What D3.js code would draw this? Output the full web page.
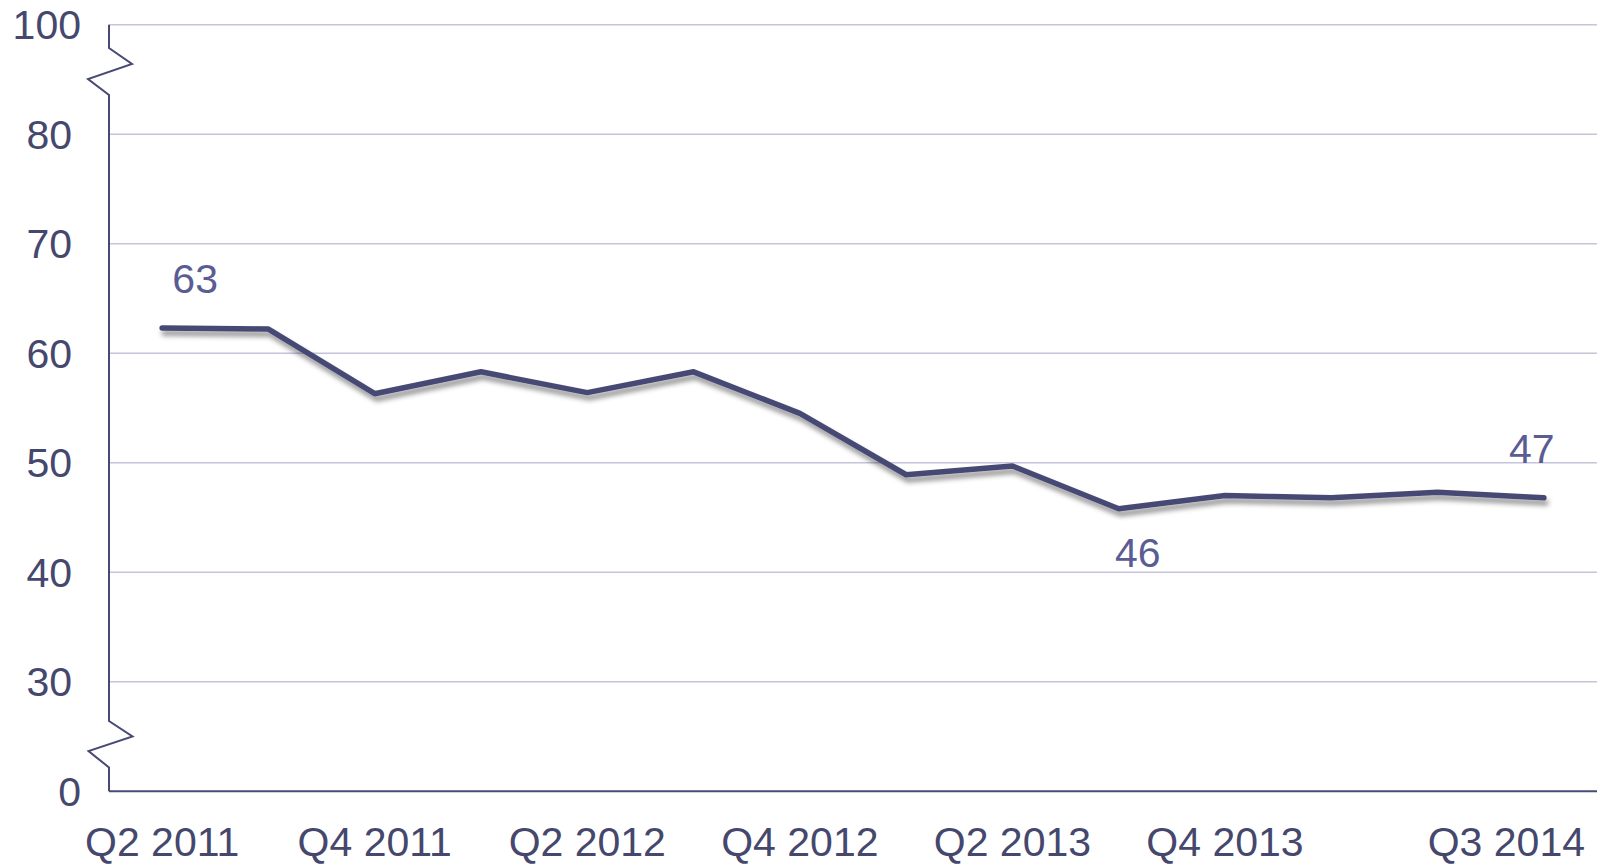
<!DOCTYPE html>
<html>
<head>
<meta charset="utf-8">
<script src="https://cdn.jsdelivr.net/npm/d3@7"></script>
<style>
  html, body { margin: 0; padding: 0; background: #ffffff; }
  svg { display: block; }
  text { font-family: "Liberation Sans", Arial, sans-serif; }
</style>
</head>
<body>
<svg id="chart" width="1603" height="865"></svg>
<script>
// ---- data ----
const categories = ["Q2 2011","Q3 2011","Q4 2011","Q1 2012","Q2 2012","Q3 2012","Q4 2012",
                    "Q1 2013","Q2 2013","Q3 2013","Q4 2013","Q1 2014","Q2 2014","Q3 2014"];
const values = [62.3, 62.2, 56.3, 58.3, 56.4, 58.3, 54.5, 48.9, 49.7, 45.8, 47.0, 46.8, 47.3, 46.8];
const xTickLabels = ["Q2 2011","Q4 2011","Q2 2012","Q4 2012","Q2 2013","Q4 2013","Q3 2014"];
// broken axis: plotted positions 20 and 90 carry the labels 0 and 100
const yTickValues = [20, 30, 40, 50, 60, 70, 80, 90];
const yTickLabels = ["0", "30", "40", "50", "60", "70", "80", "100"];
const pointLabels = [
  {index: 0, text: "63", pos: "above", dx: 33},
  {index: 9, text: "46", pos: "below", dx: 19},
  {index: 13, text: "47", pos: "above", dx: -12}
];

// ---- layout ----
const svg = d3.select("#chart");
const pLeft = 109, pRight = 1597, pTop = 24.7, pBottom = 791.2;
const lineColor = "#474a74", textColor = "#45476d", labelColor = "#5a5c94", gridColor = "#c4c4dc";
const fontSize = 41;

const x = d3.scalePoint().domain(categories).range([pLeft, pRight]).padding(0.5);
const y = d3.scaleLinear().domain([20, 90]).range([pBottom, pTop]);

const defs = svg.append("defs");
const f = defs.append("filter").attr("id", "shadow")
  .attr("x", "-5%").attr("y", "-20%").attr("width", "110%").attr("height", "150%");
f.append("feDropShadow").attr("dx", 2).attr("dy", 5).attr("stdDeviation", 2.5)
  .attr("flood-color", "#000").attr("flood-opacity", 0.42);

// gridlines
svg.append("g").selectAll("line")
  .data(yTickValues.filter(v => v > 20))
  .join("line")
  .attr("x1", pLeft).attr("x2", pRight)
  .attr("y1", d => y(d)).attr("y2", d => y(d))
  .attr("stroke", gridColor).attr("stroke-width", 1.6);

// x axis line
svg.append("line").attr("x1", pLeft).attr("x2", pRight)
  .attr("y1", pBottom).attr("y2", pBottom)
  .attr("stroke", lineColor).attr("stroke-width", 2);

// y axis with breaks (zigzags)
const yAxisPath = d3.path();
yAxisPath.moveTo(pLeft, y(90));
yAxisPath.lineTo(pLeft, 48);
yAxisPath.lineTo(132, 64);
yAxisPath.lineTo(88, 79);
yAxisPath.lineTo(pLeft, 95);
yAxisPath.lineTo(pLeft, 721);
yAxisPath.lineTo(132.5, 736.5);
yAxisPath.lineTo(88.5, 751);
yAxisPath.lineTo(pLeft, 767.5);
yAxisPath.lineTo(pLeft, pBottom);
svg.append("path").attr("d", yAxisPath.toString())
  .attr("fill", "none").attr("stroke", lineColor).attr("stroke-width", 2)
  .attr("stroke-linejoin", "miter");

// y tick labels
svg.append("g").selectAll("text")
  .data(yTickValues)
  .join("text")
  .attr("x", d => (d === 20 || d === 90) ? 81 : 72)
  .attr("y", d => y(d))
  .attr("dy", "0.36em")
  .attr("text-anchor", "end")
  .attr("font-size", fontSize)
  .attr("fill", textColor)
  .text((d, i) => yTickLabels[i]);

// x tick labels
svg.append("g").selectAll("text")
  .data(xTickLabels)
  .join("text")
  .attr("x", d => x(d))
  .attr("y", 856)
  .attr("text-anchor", "middle")
  .attr("font-size", fontSize)
  .attr("fill", textColor)
  .text(d => d)
  .each(function(d) {
    const w = this.getComputedTextLength();
    const cx = x(d);
    const maxRight = pRight - 12;
    if (cx + w / 2 > maxRight) d3.select(this).attr("x", maxRight - w / 2);
  });

// line
const line = d3.line().x((d, i) => x(categories[i])).y(d => y(d));
svg.append("path").datum(values)
  .attr("d", line)
  .attr("fill", "none")
  .attr("stroke", lineColor)
  .attr("stroke-width", 5.5)
  .attr("stroke-linejoin", "round")
  .attr("stroke-linecap", "round")
  .attr("filter", "url(#shadow)");

// data labels
svg.append("g").selectAll("text")
  .data(pointLabels)
  .join("text")
  .attr("x", d => x(categories[d.index]) + d.dx)
  .attr("y", d => d.pos === "above" ? y(values[d.index]) - 35 : y(values[d.index]) + 58)
  .attr("text-anchor", "middle")
  .attr("font-size", fontSize)
  .attr("fill", labelColor)
  .text(d => d.text);
</script>
</body>
</html>
